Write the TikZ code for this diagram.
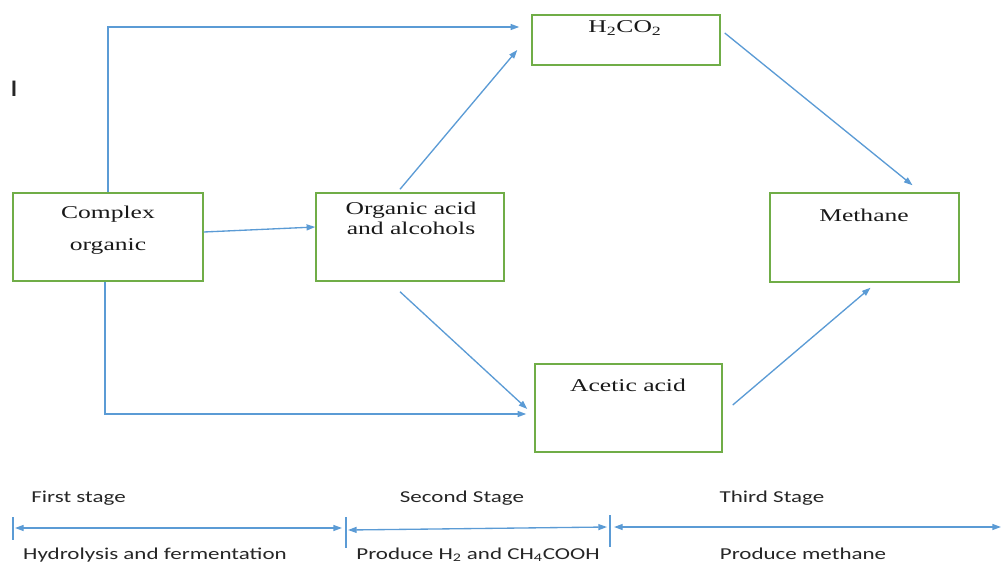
\documentclass[tikz,border=0pt]{standalone}
\usepackage{fontspec}
\setmainfont[FakeStretch=1.42]{Liberation Serif}
\newfontfamily\stagefont[FakeStretch=1.38]{Carlito}
\usetikzlibrary{arrows.meta,calc}
\definecolor{boxgreen}{HTML}{70AD47}
\definecolor{flowblue}{HTML}{5B9BD5}
\tikzset{
  box/.style={draw=boxgreen,line width=1.1pt,minimum width=141pt,minimum height=66pt,inner sep=0pt},
  boxtxt/.style={font=\fontsize{13.5}{15}\selectfont,text=black!90,align=center,inner sep=0pt},
  stagetxt/.style={font=\stagefont\fontsize{12.5}{15}\selectfont,text=black!85,inner sep=0pt,anchor=base},
  flow/.style={draw=flowblue,line width=1pt,-{Triangle[length=6.5pt,width=4.5pt]}},
  span/.style={draw=flowblue,line width=1pt,{Triangle[length=6.5pt,width=4.5pt]}-{Triangle[length=6.5pt,width=4.5pt]}},
  tick/.style={draw=flowblue,line width=1pt}
}
\begin{document}
\begin{tikzpicture}[x=0.75pt,y=-0.75pt]
\useasboundingbox (0,0) rectangle (1002,564);
\node[box,minimum width=142.5pt](cplx) at(108,237){};
\node[box](org) at(410,237){};
\node[box,minimum height=37.5pt](h2) at(626,40){};
\node[box,minimum width=141.75pt,minimum height=66.75pt](meth) at(864.5,237.5){};
\node[box,minimum width=140.25pt](acet) at(628.5,408){};
\node[boxtxt](cplxtxt) at(108,230){Complex\\[9pt]organic};
\node[boxtxt](orgtxt) at(411,218){Organic acid\\and alcohols};
\node[boxtxt](h2txt) at(625,28){H\textsubscript{2}CO\textsubscript{2}};
\node[boxtxt](methtxt) at(864,215){Methane};
\node[boxtxt](acettxt) at(628,385){Acetic acid};
\node[stagetxt,font=\stagefont\fontsize{18}{20}\selectfont](mark) at(14,96){I};
\draw[flow]($(cplx.north)$) |- ($(h2.west)+(-12,-13)$);
\draw[flow]($(cplx.south)+(-3,0)$) |- ($(acet.west)+(-8,6)$);
\draw[flow]($(cplx.east)+(0,-5)$)--($(org.west)+(0,-10)$);
\draw[flow]($(org.north)+(-10,-3)$)--($(h2.west)+(-14,10)$);
\draw[flow]($(org.south)+(-10,10)$)--($(acet.west)+(-7,1)$);
\draw[flow]($(h2.east)+(4,-7)$)--($(meth.north)+(48,-7)$);
\draw[flow]($(acet.east)+(10,-3)$)--($(meth.south)+(6,5)$);
\coordinate(t1) at(13,528);
\coordinate(t2) at(346,530);
\coordinate(t3) at(610,527);
\coordinate(tend) at(1001,527);
\draw[tick]($(t1)+(0,-11)$)--($(t1)+(0,12)$);
\draw[tick]($(t2)+(0,-13)$)--($(t2)+(0,18)$);
\draw[tick]($(t3)+(0,-12)$)--($(t3)+(0,20)$);
\draw[span]($(t1)+(2,0)$)--($(t2)+(-4,-2)$);
\draw[span]($(t2)+(2,0)$)--($(t3)+(-3,0)$);
\draw[span]($(t3)+(4,0)$)--(tend);
\node[stagetxt](s1) at(78.5,502){First stage};
\node[stagetxt](s2) at(462,502){Second Stage};
\node[stagetxt](s3) at(772,502){Third Stage};
\node[stagetxt](d1) at(155,559){Hydrolysis and fermentation};
\node[stagetxt](d2) at(478,559){Produce H\textsubscript{2} and CH\textsubscript{4}COOH};
\node[stagetxt](d3) at(803,559){Produce methane};
\end{tikzpicture}
\end{document}
